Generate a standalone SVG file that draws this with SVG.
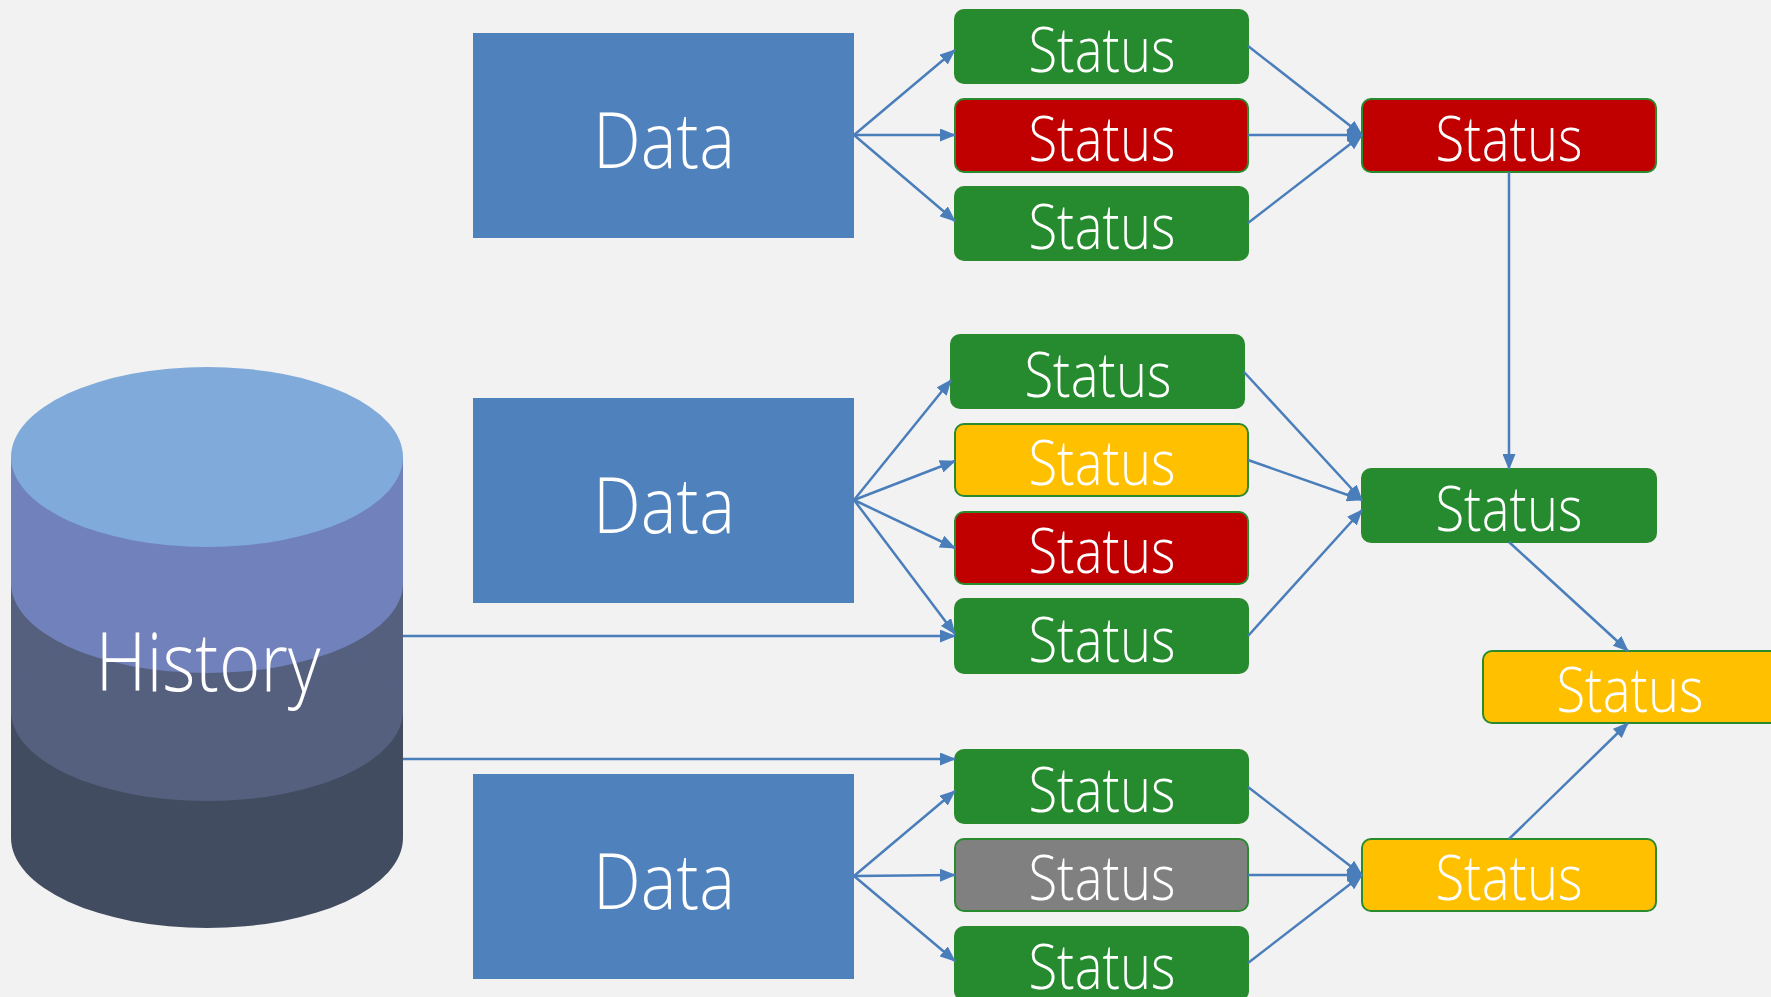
<svg xmlns="http://www.w3.org/2000/svg" width="1771" height="997" viewBox="0 0 1771 997">
<style>
.st{stroke:#2A8A2E;stroke-width:2}
.g{fill:#258B2E}.r{fill:#C00000}.y{fill:#FFC000}.gr{fill:#808080}
.d{fill:#4F81BD}
.t{font-family:"Open Sans Light","Lato Light","Open Sans","Liberation Sans",sans-serif;font-weight:300;fill:#FFFFFF;text-anchor:middle}
.ts{font-size:62px}
.td{font-size:77px}
.c{stroke:#4A7EBB;stroke-width:2.5;fill:none;marker-end:url(#ah)}
</style>
<defs>
<marker id="ah" markerUnits="userSpaceOnUse" markerWidth="16" markerHeight="13" refX="15" refY="6.5" orient="auto">
<path d="M0,0 L16,6.5 L0,13 Z" fill="#4A7EBB"/>
</marker>
</defs>
<rect width="1771" height="997" fill="#F2F2F2"/>

<g id="history">
<rect x="11" y="711" width="392" height="127" fill="#424C60"/>
<ellipse cx="207" cy="838" rx="196" ry="90" fill="#424C60"/>
<rect x="11" y="583" width="392" height="128" fill="#55607F"/>
<ellipse cx="207" cy="711" rx="196" ry="90" fill="#55607F"/>
<rect x="11" y="457" width="392" height="126" fill="#7181BB"/>
<ellipse cx="207" cy="583" rx="196" ry="90" fill="#7181BB"/>
<ellipse cx="207" cy="457" rx="196" ry="90" fill="#7FAAD9"/>
<text class="t" x="208" y="691" font-size="81" textLength="225" lengthAdjust="spacingAndGlyphs">History</text>
</g>

<g id="data1"><rect class="d" x="473" y="33" width="381" height="205"/><text class="t td" x="664" y="168" textLength="142" lengthAdjust="spacingAndGlyphs">Data</text></g>
<g id="data2"><rect class="d" x="473" y="398" width="381" height="205"/><text class="t td" x="664" y="533" textLength="142" lengthAdjust="spacingAndGlyphs">Data</text></g>
<g id="data3"><rect class="d" x="473" y="774" width="381" height="205"/><text class="t td" x="664" y="909" textLength="142" lengthAdjust="spacingAndGlyphs">Data</text></g>

<g id="s1a"><rect class="g st" x="955" y="10" width="293" height="73" rx="9"/><text class="t ts" x="1102" y="72" textLength="147" lengthAdjust="spacingAndGlyphs">Status</text></g>
<g id="s1b"><rect class="r st" x="955" y="99" width="293" height="73" rx="9"/><text class="t ts" x="1102" y="161" textLength="147" lengthAdjust="spacingAndGlyphs">Status</text></g>
<g id="s1c"><rect class="g st" x="955" y="187" width="293" height="73" rx="9"/><text class="t ts" x="1102" y="249" textLength="147" lengthAdjust="spacingAndGlyphs">Status</text></g>
<g id="s1r"><rect class="r st" x="1362" y="99" width="294" height="73" rx="9"/><text class="t ts" x="1509" y="161" textLength="147" lengthAdjust="spacingAndGlyphs">Status</text></g>

<g id="s2a"><rect class="g st" x="951" y="335" width="293" height="73" rx="9"/><text class="t ts" x="1098" y="397" textLength="147" lengthAdjust="spacingAndGlyphs">Status</text></g>
<g id="s2b"><rect class="y st" x="955" y="424" width="293" height="72" rx="9"/><text class="t ts" x="1102" y="485" textLength="147" lengthAdjust="spacingAndGlyphs">Status</text></g>
<g id="s2c"><rect class="r st" x="955" y="512" width="293" height="72" rx="9"/><text class="t ts" x="1102" y="573" textLength="147" lengthAdjust="spacingAndGlyphs">Status</text></g>
<g id="s2d"><rect class="g st" x="955" y="599" width="293" height="74" rx="9"/><text class="t ts" x="1102" y="662" textLength="147" lengthAdjust="spacingAndGlyphs">Status</text></g>
<g id="s2r"><rect class="g st" x="1362" y="469" width="294" height="73" rx="9"/><text class="t ts" x="1509" y="531" textLength="147" lengthAdjust="spacingAndGlyphs">Status</text></g>

<g id="sfinal"><rect class="y st" x="1483" y="651" width="300" height="72" rx="9"/><text class="t ts" x="1630" y="712" textLength="147" lengthAdjust="spacingAndGlyphs">Status</text></g>

<g id="s3a"><rect class="g st" x="955" y="750" width="293" height="73" rx="9"/><text class="t ts" x="1102" y="812" textLength="147" lengthAdjust="spacingAndGlyphs">Status</text></g>
<g id="s3b"><rect class="gr st" x="955" y="839" width="293" height="72" rx="9"/><text class="t ts" x="1102" y="900" textLength="147" lengthAdjust="spacingAndGlyphs">Status</text></g>
<g id="s3c"><rect class="g st" x="955" y="927" width="293" height="73" rx="9"/><text class="t ts" x="1102" y="989" textLength="147" lengthAdjust="spacingAndGlyphs">Status</text></g>
<g id="s3r"><rect class="y st" x="1362" y="839" width="294" height="72" rx="9"/><text class="t ts" x="1509" y="900" textLength="147" lengthAdjust="spacingAndGlyphs">Status</text></g>

<g id="connectors">
<path class="c" d="M854,135 L955,50"/>
<path class="c" d="M854,135 L955,135"/>
<path class="c" d="M854,135 L955,221"/>
<path class="c" d="M1248,46 L1362,135"/>
<path class="c" d="M1248,135 L1362,135"/>
<path class="c" d="M1248,223 L1362,135"/>
<path class="c" d="M1509,172 L1509,469"/>

<path class="c" d="M854,500 L951,380"/>
<path class="c" d="M854,500 L955,461"/>
<path class="c" d="M854,500 L955,548"/>
<path class="c" d="M854,500 L955,634"/>
<path class="c" d="M403,636 L955,636"/>
<path class="c" d="M1244,372 L1362,500"/>
<path class="c" d="M1248,460 L1362,500"/>
<path class="c" d="M1248,636 L1362,510"/>
<path class="c" d="M1509,542 L1628,651"/>

<path class="c" d="M403,759 L955,759"/>
<path class="c" d="M854,876 L955,791"/>
<path class="c" d="M854,876 L955,875"/>
<path class="c" d="M854,876 L955,961"/>
<path class="c" d="M1248,787 L1362,875"/>
<path class="c" d="M1248,875 L1362,875"/>
<path class="c" d="M1248,963 L1362,875"/>
<path class="c" d="M1509,839 L1628,723"/>
</g>
</svg>
